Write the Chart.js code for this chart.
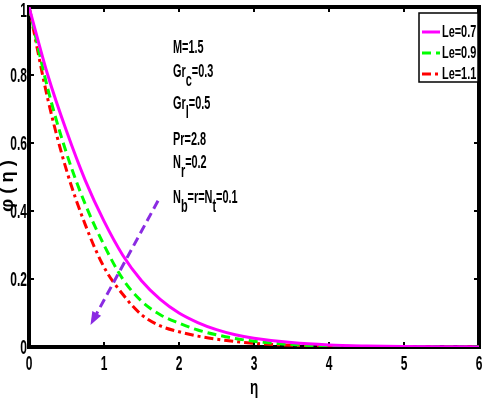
<!DOCTYPE html>
<html>
<head>
<meta charset="utf-8">
<script src="https://cdn.jsdelivr.net/npm/chart.js@4.4.1/dist/chart.umd.min.js"></script>
<style>
  html, body { margin: 0; padding: 0; background: #fff; }
  canvas { display: block; }
</style>
</head>
<body>
<canvas id="myChart" width="484" height="398"></canvas>
<script>
// eta values (x axis)
const eta = [0, 0.25, 0.5, 0.75, 1, 1.25, 1.5, 1.75, 2, 2.25, 2.5, 2.75, 3, 3.5, 4, 4.5, 5, 5.5, 6];
// phi(eta)
const phiLe07 = [1, 0.80, 0.635, 0.49, 0.37, 0.27, 0.195, 0.14, 0.10, 0.072, 0.051, 0.036, 0.026, 0.013, 0.006, 0.003, 0.0015, 0.0007, 0.0003];
const phiLe09 = [1, 0.76, 0.57, 0.42, 0.30, 0.20, 0.135, 0.095, 0.07, 0.05, 0.036, 0.025, 0.017, 0.007, 0.003, 0.0015, 0.0007, 0.0003, 0.0001];
const phiLe11 = [1, 0.73, 0.52, 0.36, 0.235, 0.155, 0.095, 0.062, 0.045, 0.032, 0.023, 0.016, 0.011, 0.005, 0.002, 0.001, 0.0005, 0.0002, 0.0001];
const seriesLabels = ['Le=0.7', 'Le=0.9', 'Le=1.1'];
const xTicks = [0, 1, 2, 3, 4, 5, 6];
const yTicks = [0, 0.2, 0.4, 0.6, 0.8, 1];
const xTitle = 'η';
const yTitle = 'φ ( η )';

// parameter text, [text, subscript?]
const notes = [
  [['M=1.5', false]],
  [['Gr', false], ['c', true], ['=0.3', false]],
  [['Gr', false], ['l', true], ['=0.5', false]],
  [['Pr=2.8', false]],
  [['N', false], ['r', true], ['=0.2', false]],
  [['N', false], ['b', true], ['=r=N', false], ['t', true], ['=0.1', false]],
];
const noteBaselines = [53, 77, 109, 145, 168, 203];
// arrow, from -> to (eta, phi)
const arrowFrom = [1.72, 0.43];
const arrowTo = [0.82, 0.065];

const FONT = '"Liberation Sans", Arial, sans-serif';

// draws squeezed text, returns drawn width
function txt(ctx, t, x, y, align, base, sy, size, sx) {
  size = size || 14;
  sx = sx || 0.78;
  ctx.save();
  ctx.font = 'bold ' + size + 'px ' + FONT;
  ctx.textAlign = align;
  ctx.textBaseline = base;
  ctx.translate(x, y);
  ctx.scale(sx, sy);
  ctx.fillText(t, 0, 0);
  const w = ctx.measureText(t).width * sx;
  ctx.restore();
  return w;
}

const framePlugin = {
  id: 'frame',
  beforeDatasetsDraw(chart) {
    const { ctx, chartArea: a, scales } = chart;
    ctx.save();
    ctx.strokeStyle = '#000';
    ctx.fillStyle = '#000';
    ctx.lineWidth = 2;
    xTicks.forEach((v) => {
      const px = scales.x.getPixelForValue(v);
      ctx.beginPath();
      ctx.moveTo(px, a.bottom); ctx.lineTo(px, a.bottom - 5);
      ctx.moveTo(px, a.top); ctx.lineTo(px, a.top + 5);
      ctx.stroke();
      txt(ctx, String(v), px, a.bottom + 18, 'center', 'middle', 1.3, 15, 0.8);
    });
    yTicks.forEach((v) => {
      const py = scales.y.getPixelForValue(v);
      ctx.beginPath();
      ctx.moveTo(a.left, py); ctx.lineTo(a.left + 5, py);
      ctx.moveTo(a.right, py); ctx.lineTo(a.right - 5, py);
      ctx.stroke();
      txt(ctx, String(v), a.left - 2, Math.max(py + 2, 12), 'right', 'middle', 1.3, 15, 0.8);
    });
    ctx.lineWidth = 4;
    ctx.strokeRect(a.left, a.top, a.right - a.left, a.bottom - a.top);

    // axis titles
    txt(ctx, xTitle, (a.left + a.right) / 2, 389, 'center', 'middle', 1.3, 15, 0.9);
    ctx.save();
    ctx.translate(8, 186);
    ctx.rotate(-Math.PI / 2);
    txt(ctx, yTitle, 0, 0, 'center', 'middle', 1.1, 16, 1.15);
    ctx.restore();
    ctx.restore();
  },
  afterDatasetsDraw(chart) {
    const { ctx, scales } = chart;
    ctx.save();
    // arrow
    const x1 = scales.x.getPixelForValue(arrowFrom[0]);
    const y1 = scales.y.getPixelForValue(arrowFrom[1]);
    const x2 = scales.x.getPixelForValue(arrowTo[0]);
    const y2 = scales.y.getPixelForValue(arrowTo[1]);
    const ang = Math.atan2(y2 - y1, x2 - x1);
    ctx.strokeStyle = '#8a2be2';
    ctx.fillStyle = '#8a2be2';
    ctx.lineWidth = 3;
    ctx.setLineDash([9, 5]);
    ctx.beginPath();
    ctx.moveTo(x1, y1);
    ctx.lineTo(x2 - 8 * Math.cos(ang), y2 - 8 * Math.sin(ang));
    ctx.stroke();
    ctx.setLineDash([]);
    ctx.beginPath();
    ctx.moveTo(x2, y2);
    ctx.lineTo(x2 - 13 * Math.cos(ang) + 5 * Math.sin(ang), y2 - 13 * Math.sin(ang) - 5 * Math.cos(ang));
    ctx.lineTo(x2 - 13 * Math.cos(ang) - 5 * Math.sin(ang), y2 - 13 * Math.sin(ang) + 5 * Math.cos(ang));
    ctx.closePath();
    ctx.fill();

    // parameter text
    ctx.fillStyle = '#000';
    notes.forEach((line, i) => {
      let x = 173;
      const base = noteBaselines[i];
      line.forEach(([t, sub]) => {
        x += txt(ctx, t, x, sub ? base + 9 : base, 'left', 'alphabetic', 1.25);
      });
    });

    // legend
    const lx = 419, ly = 13, lw = 59, lh = 69;
    ctx.fillStyle = '#fff';
    ctx.fillRect(lx, ly, lw, lh);
    ctx.strokeStyle = '#000';
    ctx.lineWidth = 1.5;
    ctx.strokeRect(lx, ly, lw, lh);
    chart.data.datasets.forEach((ds, i) => {
      const cy = ly + 19 + i * 21;
      ctx.strokeStyle = ds.borderColor;
      ctx.lineWidth = 3;
      ctx.setLineDash(ds.borderDash || []);
      ctx.beginPath();
      ctx.moveTo(lx + 3, cy);
      ctx.lineTo(lx + 21, cy);
      ctx.stroke();
      ctx.setLineDash([]);
      ctx.fillStyle = '#000';
      txt(ctx, ds.label, lx + 23, cy, 'left', 'middle', 1.2);
    });
    ctx.restore();
  },
};

const chartArea = document.getElementById('myChart').getContext('2d');
const myChart = new Chart(chartArea, {
  type: 'line',
  data: {
    datasets: [
      {
        label: seriesLabels[0],
        data: eta.map((x, i) => ({ x: x, y: phiLe07[i] })),
        borderColor: '#ff00ff',
        borderWidth: 3,
        pointRadius: 0,
        cubicInterpolationMode: 'monotone',
      },
      {
        label: seriesLabels[1],
        data: eta.map((x, i) => ({ x: x, y: phiLe09[i] })),
        borderColor: '#00ff00',
        borderWidth: 3,
        borderDash: [9, 5],
        pointRadius: 0,
        cubicInterpolationMode: 'monotone',
      },
      {
        label: seriesLabels[2],
        data: eta.map((x, i) => ({ x: x, y: phiLe11[i] })),
        borderColor: '#ff0000',
        borderWidth: 3,
        borderDash: [9, 4, 3, 4],
        pointRadius: 0,
        cubicInterpolationMode: 'monotone',
      },
    ],
  },
  options: {
    responsive: false,
    animation: false,
    layout: { padding: { top: 7, right: 5, left: 0, bottom: 0 } },
    scales: {
      x: {
        type: 'linear',
        min: 0,
        max: 6,
        afterFit: (scale) => { scale.height = 51; },
        grid: { display: false },
        border: { display: false },
        ticks: { display: false },
      },
      y: {
        type: 'linear',
        min: 0,
        max: 1,
        afterFit: (scale) => { scale.width = 29; },
        grid: { display: false },
        border: { display: false },
        ticks: { display: false },
      },
    },
    plugins: {
      legend: { display: false },
      tooltip: { enabled: false },
    },
  },
  plugins: [framePlugin],
});
</script>
</body>
</html>
